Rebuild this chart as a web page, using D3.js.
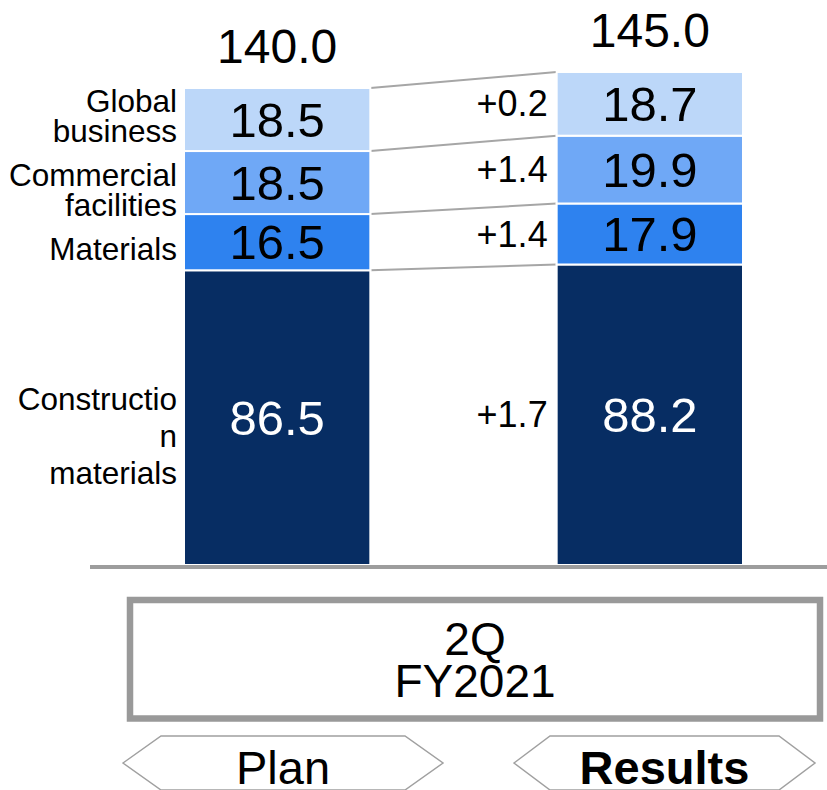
<!DOCTYPE html>
<html>
<head>
<meta charset="utf-8">
<script src="https://cdn.jsdelivr.net/npm/d3@7"></script>
<style>
  html, body { margin: 0; padding: 0; background: #fff; }
  svg { display: block; font-family: "Liberation Sans", Arial, sans-serif; }
</style>
</head>
<body>
<svg id="chart" width="827" height="790"></svg>
<script>
// Segment sales: 2Q FY2021 plan vs results, stacked with connector lines.

const periods = ["Plan", "Results"];
const segments = ["Construction materials", "Materials", "Commercial facilities", "Global business"];
const segmentLines = [["Constructio", "n", "materials"], ["Materials"], ["Commercial", "facilities"], ["Global", "business"]];
const planValues = [86.5, 16.5, 18.5, 18.5];
const resultValues = [88.2, 17.9, 19.9, 18.7];
const totals = ["140.0", "145.0"];
const changes = ["+1.7", "+1.4", "+1.4", "+0.2"];
const periodTitle = ["2Q", "FY2021"];
const segmentColors = ["#072d63", "#2e82ef", "#6fa8f6", "#bcd7f9"];

const svg = d3.select("#chart");
const width = +svg.attr("width");

const rows = [planValues, resultValues].map((vals, i) => {
  const row = { period: periods[i] };
  segments.forEach((s, j) => { row[s] = vals[j]; });
  return row;
});
const series = d3.stack().keys(segments)(rows);

const x = d3.scaleBand()
  .domain(periods)
  .range([184, 743])
  .paddingInner(0.5);

const y = d3.scaleLinear()
  .domain([0, 140])
  .range([565, 88]);

const color = d3.scaleOrdinal().domain(segments).range(segmentColors);

// connector lines between matching segment boundaries
const planX = x("Plan") + x.bandwidth();
const resX = x("Results");
series.forEach(s => {
  svg.append("line")
    .attr("x1", planX).attr("y1", y(s[0][1]))
    .attr("x2", resX).attr("y2", y(s[1][1]))
    .attr("stroke", "#a6a6a6")
    .attr("stroke-width", 2);
});

// bars
const layer = svg.selectAll(".layer")
  .data(series)
  .join("g")
  .attr("class", "layer")
  .attr("fill", d => color(d.key));

layer.selectAll("rect")
  .data(d => d)
  .join("rect")
  .attr("x", d => x(d.data.period))
  .attr("y", d => y(d[1]))
  .attr("width", x.bandwidth())
  .attr("height", d => y(d[0]) - y(d[1]))
  .attr("stroke", "#fff")
  .attr("stroke-width", 2);

// values inside segments
layer.selectAll("text")
  .data(d => d.map(p => ({ p, key: d.key })))
  .join("text")
  .attr("x", d => x(d.p.data.period) + x.bandwidth() / 2)
  .attr("y", d => (y(d.p[0]) + y(d.p[1])) / 2)
  .attr("dy", "0.35em")
  .attr("text-anchor", "middle")
  .attr("font-size", 49)
  .attr("fill", d => d.key === segments[0] ? "#fff" : "#000")
  .text(d => (d.p[1] - d.p[0]).toFixed(1));

// totals above bars
svg.selectAll(".total")
  .data(periods)
  .join("text")
  .attr("class", "total")
  .attr("x", d => x(d) + x.bandwidth() / 2)
  .attr("y", (d, i) => y(series[series.length - 1][i][1]) - 25)
  .attr("text-anchor", "middle")
  .attr("font-size", 48)
  .text((d, i) => totals[i]);

// segment names on the left
series.forEach((s, i) => {
  const top = y(s[0][1]), bottom = y(s[0][0]);
  const h = bottom - top;
  const lines = segmentLines[i];
  const gap = Math.min(37, h / 2 - 1.5);
  const isTop = i === series.length - 1;
  const mid = isTop ? top + h * 0.45 : (top + bottom) / 2 + h * 0.05 + 4;
  const t = svg.append("text")
    .attr("text-anchor", "end")
    .attr("font-size", 31.5);
  lines.forEach((ln, k) => {
    t.append("tspan")
      .attr("x", x("Plan") - 7)
      .attr("y", mid + (k - (lines.length - 1) / 2) * gap)
      .attr("dy", "0.35em")
      .text(ln);
  });
});

// change labels next to the results bar
svg.selectAll(".change")
  .data(series)
  .join("text")
  .attr("class", "change")
  .attr("x", resX - 9)
  .attr("y", d => (y(d[1][0]) + y(d[1][1])) / 2)
  .attr("dy", "0.35em")
  .attr("text-anchor", "end")
  .attr("font-size", 36)
  .text((d, i) => changes[i]);

// baseline
svg.append("line")
  .attr("x1", 90).attr("x2", width)
  .attr("y1", 567).attr("y2", 567)
  .attr("stroke", "#9d9d9d")
  .attr("stroke-width", 4);

// period box
svg.append("rect")
  .attr("x", 130).attr("y", 600)
  .attr("width", 690).attr("height", 118.5)
  .attr("fill", "#fff")
  .attr("stroke", "#999")
  .attr("stroke-width", 6.5);

const boxText = svg.append("text")
  .attr("text-anchor", "middle")
  .attr("font-size", 46);
periodTitle.forEach((ln, k) => {
  boxText.append("tspan")
    .attr("x", 475)
    .attr("y", 655 + k * 42)
    .text(ln);
});

// hexagon tags under the bars
const tags = [
  { left: 123, right: 443, notch: 38, bold: false },
  { left: 514, right: 815, notch: 36, bold: true }
];
const tagTop = 736, tagMid = 763, tagBottom = 790;
tags.forEach((t, i) => {
  const pts = [
    [t.left, tagMid], [t.left + t.notch, tagTop], [t.right - t.notch, tagTop],
    [t.right, tagMid], [t.right - t.notch, tagBottom], [t.left + t.notch, tagBottom]
  ];
  svg.append("path")
    .attr("d", d3.line()(pts) + "Z")
    .attr("fill", "#fff")
    .attr("stroke", "#a0a0a0")
    .attr("stroke-width", 1.5);
  svg.append("text")
    .attr("x", (t.left + t.right) / 2)
    .attr("y", 784)
    .attr("text-anchor", "middle")
    .attr("font-size", 47)
    .attr("font-weight", t.bold ? "bold" : "normal")
    .text(periods[i]);
});
</script>
</body>
</html>
